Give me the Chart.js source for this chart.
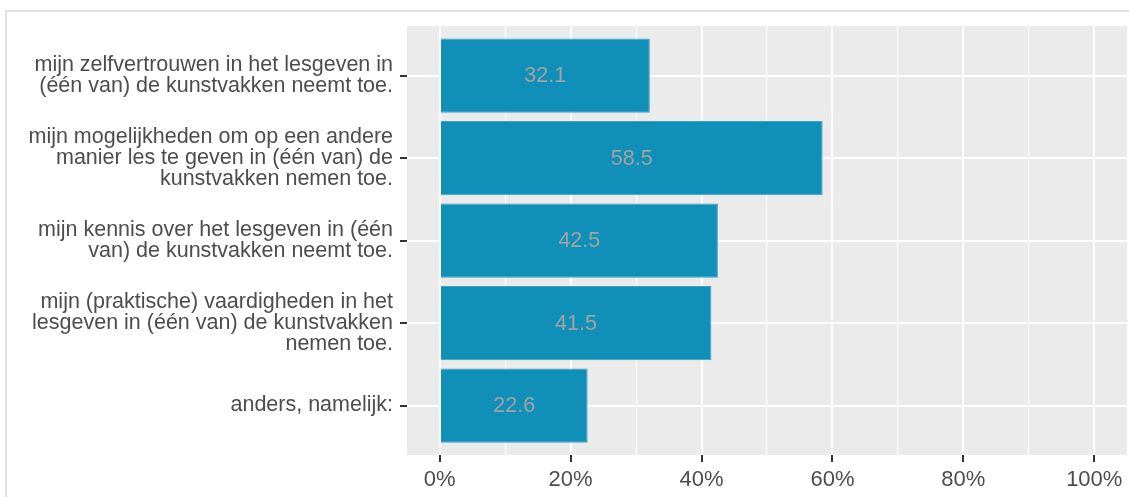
<!DOCTYPE html>
<html>
<head>
<meta charset="utf-8">
<script src="https://cdn.jsdelivr.net/npm/chart.js@4"></script>
<style>
  html, body { margin: 0; padding: 0; background: #fff; }
  #wrap { position: relative; width: 1129px; height: 497px; }
  #frame { position: absolute; left: 5px; top: 10px; right: 0; bottom: 0;
           border-top: 2px solid #e3dfdb; border-left: 2px solid #e3dfdb; }
  canvas { position: absolute; left: 0; top: 0; }
</style>
</head>
<body>
<div id="wrap">
  <div id="frame"></div>
  <canvas id="chart" width="1129" height="497"></canvas>
</div>
<script>
// categories (top to bottom), each split in the lines shown on the chart
const categories = [
    ['mijn zelfvertrouwen in het lesgeven in', '(één van) de kunstvakken neemt toe.'],
    ['mijn mogelijkheden om op een andere', 'manier les te geven in (één van) de', 'kunstvakken nemen toe.'],
    ['mijn kennis over het lesgeven in (één', 'van) de kunstvakken neemt toe.'],
    ['mijn (praktische) vaardigheden in het', 'lesgeven in (één van) de kunstvakken', 'nemen toe.'],
    ['anders, namelijk:']
];
const percentages = [32.1, 58.5, 42.5, 41.5, 22.6];
const xTickValues = [0, 20, 40, 60, 80, 100];
const xTickLabels = ['0%', '20%', '40%', '60%', '80%', '100%'];
const xMinorValues = [10, 30, 50, 70, 90];

const FONT = '"Liberation Sans", Arial, sans-serif';

const panelBg = {
    id: 'panelBg',
    beforeDraw(chart) {
        const a = chart.chartArea;
        const c = chart.ctx;
        c.save();
        c.fillStyle = '#ebebeb';
        c.fillRect(a.left, a.top, a.right - a.left, a.bottom - a.top);
        c.restore();
    }
};

const barLabels = {
    id: 'barLabels',
    afterDatasetsDraw(chart) {
        const c = chart.ctx;
        const meta = chart.getDatasetMeta(0);
        c.save();
        c.font = '21.5px ' + FONT;
        c.fillStyle = '#a3a3a3';
        c.textAlign = 'center';
        c.textBaseline = 'middle';
        meta.data.forEach(function(bar, i) {
            c.fillText(percentages[i].toFixed(1), (bar.base + bar.x) / 2, bar.y + 1);
        });
        c.restore();
    }
};

const isMajor = v => xTickValues.includes(v);

new Chart(document.getElementById('chart'), {
    type: 'bar',
    data: {
        datasets: [{
            data: percentages.map((v, i) => ({ x: v, y: i })),
            backgroundColor: '#108fb8',
            borderColor: '#3aa3c6',
            borderWidth: 1,
            barPercentage: 0.9,
            categoryPercentage: 1
        }]
    },
    options: {
        indexAxis: 'y',
        responsive: false,
        animation: false,
        layout: { padding: { top: 26, right: 2, left: 0, bottom: 0 } },
        plugins: { legend: { display: false }, tooltip: { enabled: false } },
        scales: {
            x: {
                type: 'linear',
                min: -5,
                max: 105,
                afterBuildTicks(scale) {
                    scale.ticks = xTickValues.concat(xMinorValues).sort((a, b) => a - b).map(v => ({ value: v }));
                },
                afterFit(scale) { scale.height = 42; },
                border: { display: false },
                grid: {
                    color: '#ffffff',
                    lineWidth: ctx => isMajor(ctx.tick.value) ? 2 : 1.1,
                    tickColor: ctx => isMajor(ctx.tick.value) ? '#333333' : 'rgba(0,0,0,0)',
                    tickWidth: 2,
                    tickLength: 7
                },
                ticks: {
                    autoSkip: false,
                    maxRotation: 0,
                    padding: 5,
                    color: '#4d4d4d',
                    font: { family: FONT, size: 22 },
                    callback: v => isMajor(v) ? xTickLabels[xTickValues.indexOf(v)] : ''
                }
            },
            y: {
                type: 'linear',
                min: -0.6,
                max: 4.6,
                reverse: true,
                offset: false,
                afterBuildTicks(scale) {
                    scale.ticks = categories.map((c, i) => ({ value: i }));
                },
                afterFit(scale) { scale.width = 407; },
                border: { display: false },
                grid: {
                    offset: false,
                    color: '#ffffff',
                    lineWidth: 2,
                    tickColor: '#333333',
                    tickWidth: 2,
                    tickLength: 7
                },
                ticks: {
                    autoSkip: false,
                    padding: 7,
                    crossAlign: 'near',
                    color: '#4d4d4d',
                    font: { family: FONT, size: 21.5, lineHeight: 0.96 },
                    callback: v => categories[v]
                }
            }
        }
    },
    plugins: [panelBg, barLabels]
});
</script>
</body>
</html>
